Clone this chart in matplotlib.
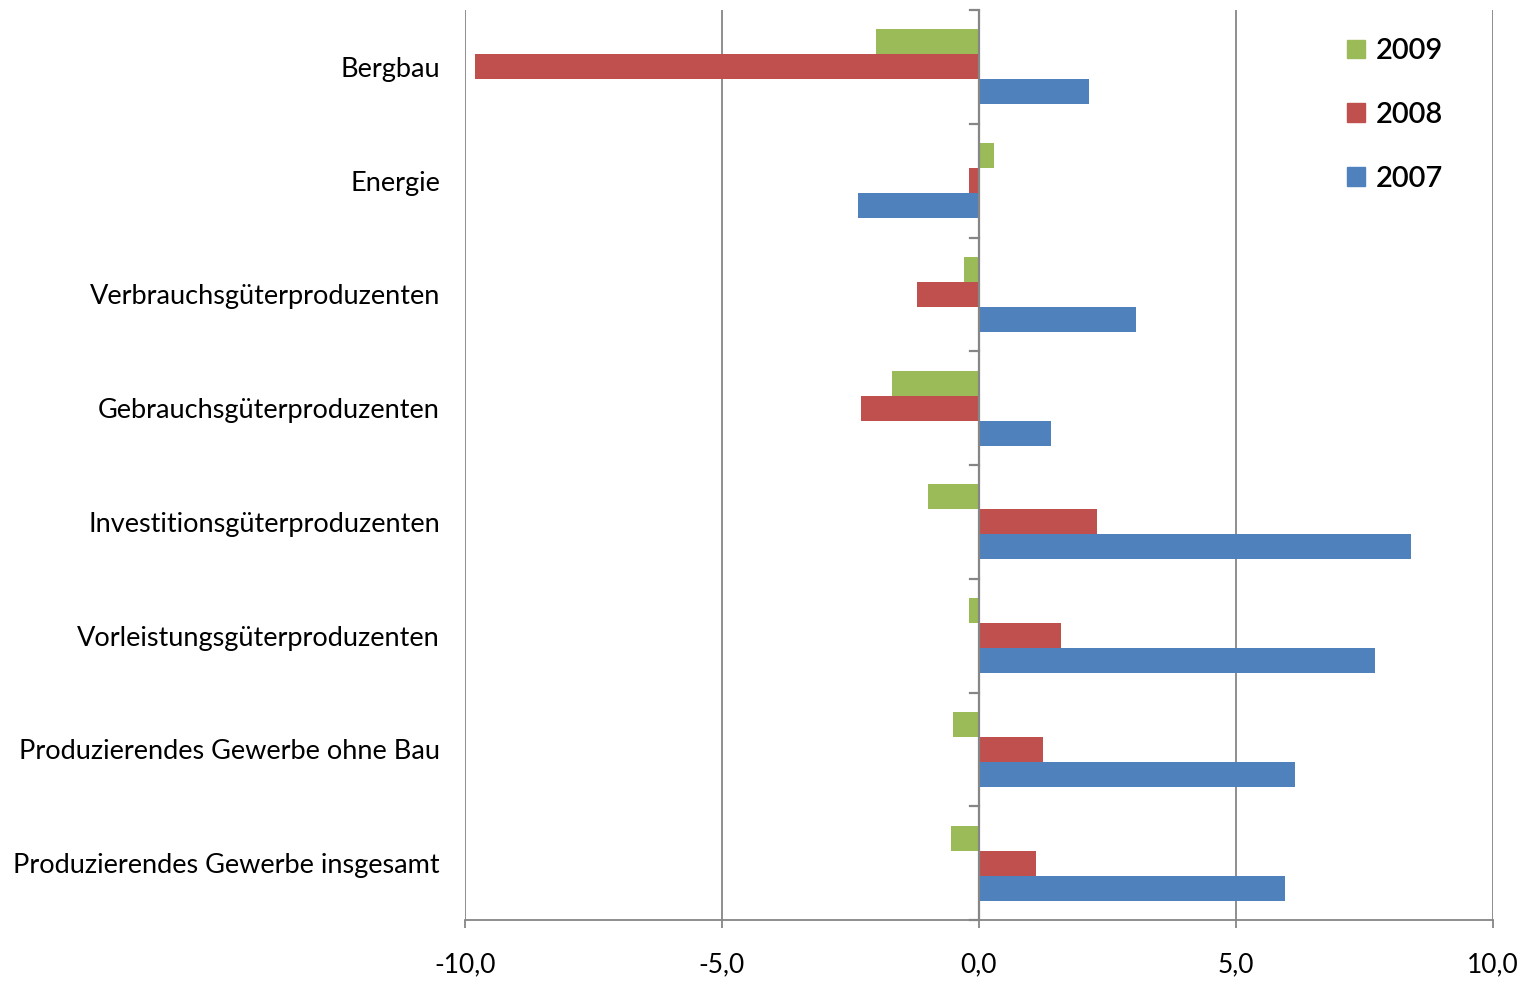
import matplotlib.pyplot as plt
from matplotlib.patches import Patch

categories = [
    "Bergbau",
    "Energie",
    "Verbrauchsgüterproduzenten",
    "Gebrauchsgüterproduzenten",
    "Investitionsgüterproduzenten",
    "Vorleistungsgüterproduzenten",
    "Produzierendes Gewerbe ohne Bau",
    "Produzierendes Gewerbe insgesamt",
]
v2009 = [-2.0, 0.3, -0.3, -1.7, -1.0, -0.2, -0.5, -0.55]
v2008 = [-9.8, -0.2, -1.2, -2.3, 2.3, 1.6, 1.25, 1.1]
v2007 = [2.15, -2.35, 3.05, 1.4, 8.4, 7.7, 6.15, 5.95]
xticks = [-10, -5, 0, 5, 10]
xticklabels = ["-10,0", "-5,0", "0,0", "5,0", "10,0"]

GREEN = "#9BBB59"
RED = "#C0504D"
BLUE = "#4F81BD"
GRID = "#868686"

plt.rcParams["font.family"] = ["Lato", "DejaVu Sans"]

fig = plt.figure(figsize=(15.36, 9.85), dpi=100)
ax = fig.add_axes([0.3027, 0.066, 0.6693, 0.9238])

pos = list(range(len(categories)))
h = 0.22
ax.barh([p - h for p in pos], v2009, height=h, color=GREEN, zorder=3)
ax.barh(pos, v2008, height=h, color=RED, zorder=3)
ax.barh([p + h for p in pos], v2007, height=h, color=BLUE, zorder=3)

ax.set_xlim(-10, 10)
ax.set_ylim(len(categories) - 0.5, -0.5)

for x in xticks:
    if x != 0:
        ax.axvline(x, color=GRID, lw=1.3, zorder=1)
ax.axvline(0, color=GRID, lw=1.6, zorder=4)
# category tick marks on the zero axis
for b in [i - 0.5 for i in range(len(categories) + 1)]:
    ax.plot([-0.18, 0], [b, b], color=GRID, lw=1.6, zorder=4, clip_on=False)

ax.set_xticks(xticks)
ax.set_xticklabels(xticklabels, fontsize=19)
ax.set_yticks(pos)
ax.set_yticklabels(categories, fontsize=19.5)
ax.tick_params(axis="y", length=0, pad=18)
ax.tick_params(axis="x", length=6, width=1.3, color=GRID, pad=17)

for s in ["top", "right", "left"]:
    ax.spines[s].set_visible(False)
ax.spines["bottom"].set_color(GRID)
ax.spines["bottom"].set_linewidth(1.3)

handles = [Patch(color=GREEN), Patch(color=RED), Patch(color=BLUE)]
leg = ax.legend(handles, ["2009", "2008", "2007"], loc="upper left",
                bbox_to_anchor=(0.858, 0.969), frameon=False,
                prop={"size": 21, "weight": "semibold"},
                borderpad=0, borderaxespad=0,
                handlelength=0.62, handleheight=0.62, handletextpad=0.35,
                labelspacing=1.3)

fig.savefig("out.png", dpi=100)
